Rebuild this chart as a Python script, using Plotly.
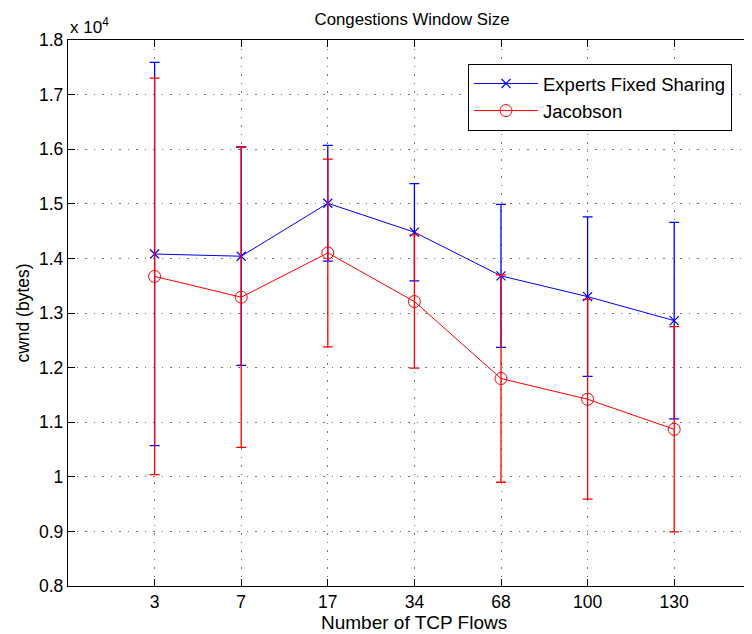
import plotly.graph_objects as go

categories = ["3", "7", "17", "34", "68", "100", "130"]
positions = [1, 2, 3, 4, 5, 6, 7]

# values in units of 10^4 bytes
experts_mean = [1.408, 1.404, 1.501, 1.448, 1.368, 1.330, 1.286]
experts_err = [0.351, 0.200, 0.106, 0.089, 0.131, 0.146, 0.180]
jacobson_mean = [1.367, 1.329, 1.410, 1.321, 1.180, 1.142, 1.087]
jacobson_err = [0.363, 0.275, 0.172, 0.122, 0.190, 0.183, 0.188]

yticks = [0.8, 0.9, 1.0, 1.1, 1.2, 1.3, 1.4, 1.5, 1.6, 1.7, 1.8]
ytick_labels = ["0.8", "0.9", "1", "1.1", "1.2", "1.3", "1.4", "1.5", "1.6", "1.7", "1.8"]

FONT = "Liberation Sans, Arial, Helvetica, sans-serif"

# page has an 8px body margin: figure coords = page coords - 8
W, H = 736, 626
L, T, B = 60, 32, 48

fig = go.Figure()
fig.add_trace(go.Scatter(
    x=positions, y=experts_mean, name="Experts Fixed Sharing",
    mode="lines+markers",
    line=dict(color="#0000ff", width=1),
    marker=dict(symbol="x-thin-open", size=9, color="#0000ff",
                line=dict(color="#0000ff", width=1.2)),
    error_y=dict(type="data", array=experts_err, visible=True,
                 color="#0000ff", thickness=1.3, width=5),
))
fig.add_trace(go.Scatter(
    x=positions, y=jacobson_mean, name="Jacobson",
    mode="lines+markers",
    line=dict(color="#ff0000", width=1),
    marker=dict(symbol="circle-open", size=12, color="#ff0000",
                line=dict(color="#ff0000", width=1)),
    error_y=dict(type="data", array=jacobson_err, visible=True,
                 color="#ff0000", thickness=1.3, width=5),
))

pw = W - L
ph = H - T - B
unit = 86.6  # px per category step
xmax = pw / unit

fig.update_layout(
    width=W, height=H,
    margin=dict(l=L, r=0, t=T, b=B),
    paper_bgcolor="white", plot_bgcolor="white",
    font=dict(family=FONT, size=17, color="black"),
    title=dict(text="Congestions Window Size", x=(412 - 8 - L) / pw, xref="paper",
               xanchor="center", y=1 - 11 / H, yanchor="middle",
               font=dict(size=16.8, color="black")),
    showlegend=True,
    legend=dict(x=(468 - 8 - L) / pw, y=1 - (64 - 8 - T) / ph, xanchor="left", yanchor="top",
                bordercolor="black", borderwidth=1, bgcolor="white",
                font=dict(size=18.5, color="black"), tracegroupgap=0,
                itemwidth=64),
)

grid = dict(showgrid=True, gridcolor="#777777", griddash="1.5px,7px", gridwidth=1)

fig.update_xaxes(
    range=[0, xmax], tickmode="array", tickvals=positions, ticktext=categories,
    showline=True, linecolor="black", linewidth=1.3, mirror="ticks",
    ticks="inside", ticklen=7, tickcolor="black",
    zeroline=False, automargin=False,
    tickfont=dict(size=17.5),
    **grid,
)
fig.update_yaxes(
    range=[0.8, 1.8], tickmode="array", tickvals=yticks, ticktext=ytick_labels,
    showline=True, linecolor="black", linewidth=1.3,
    ticks="inside", ticklen=7, tickcolor="black",
    zeroline=False, automargin=False,
    title=dict(text="cwnd (bytes)", font=dict(size=17.5), standoff=4),
    tickfont=dict(size=17.5),
    **grid,
)

# x-axis title (centred as in the reference, whose axes box extends past the page)
fig.add_annotation(
    text="Number of TCP Flows", xref="paper", yref="paper",
    x=(414 - 8 - L) / pw, y=0, xanchor="center", yanchor="middle", yshift=-36,
    showarrow=False, font=dict(size=19, color="black"),
)

fig.add_annotation(
    text="x 10<sup>4</sup>", xref="paper", yref="paper", x=0, y=1,
    xanchor="left", yanchor="bottom", yshift=1, showarrow=False,
    font=dict(size=17, color="black"),
)

fig.write_html("out.html")
